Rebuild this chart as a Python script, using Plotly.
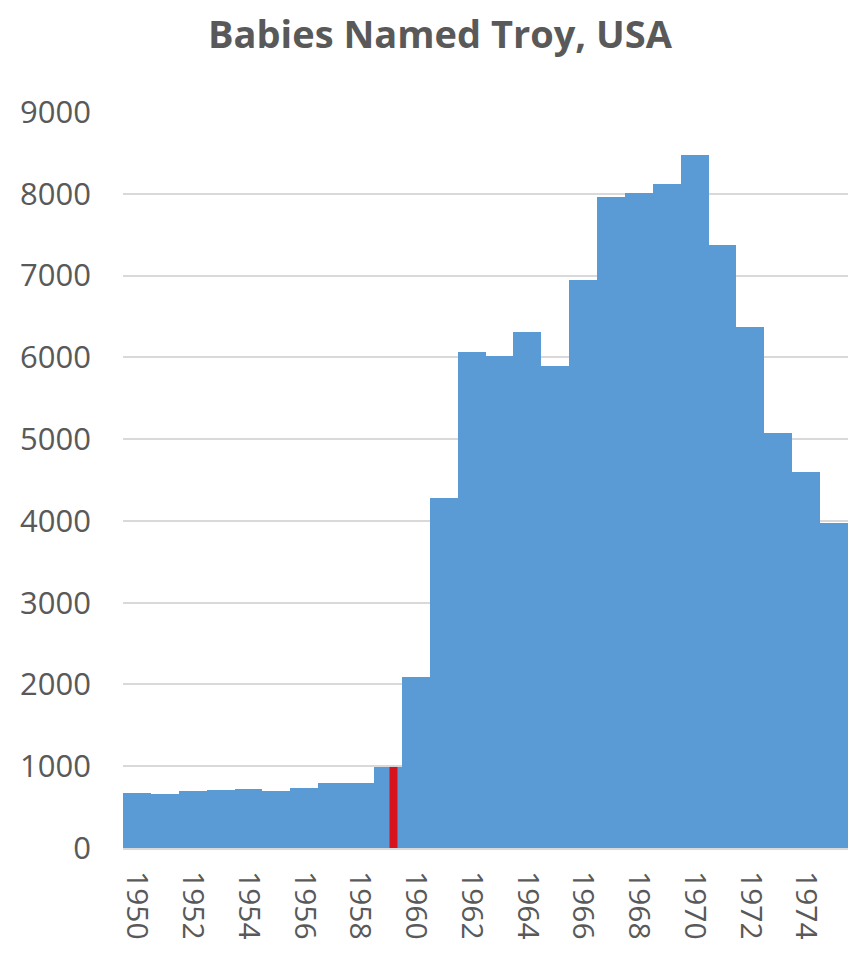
import plotly.graph_objects as go

years = list(range(1950, 1976))
babies = [670, 657, 694, 710, 722, 698, 738, 796, 796, 991,
          2090, 4275, 6062, 6013, 6315, 5900, 6940, 7960, 8013, 8123,
          8470, 7368, 6377, 5076, 4602, 3974]
tick_years = list(range(1950, 1976, 2))
y_ticks = list(range(0, 9001, 1000))
marker_x = [1959.2, 1959.2]
marker_y = [0, 991]

font_color = "#595959"
fig = go.Figure()
fig.add_trace(go.Bar(x=years, y=babies, marker=dict(color="#5b9bd5", line=dict(width=0)),
                     showlegend=False))
fig.add_trace(go.Scatter(x=marker_x, y=marker_y, mode="lines",
                         line=dict(color="#d7141c", width=8), showlegend=False))

fig.update_layout(
    width=864, height=954,
    paper_bgcolor="white", plot_bgcolor="white",
    bargap=0,
    margin=dict(l=113, r=24, t=104, b=114),
    title=dict(text="<b>Babies Named Troy, USA</b>", x=0.5, xanchor="center",
               y=0.972, yanchor="middle",
               font=dict(family="Open Sans", size=38, color=font_color)),
    font=dict(family="Open Sans", color=font_color),
    xaxis=dict(range=[1949.5, 1975.5], tickvals=tick_years, ticktext=[str(t) for t in tick_years],
               tickangle=90, tickfont=dict(size=30, color=font_color),
               showgrid=False, showline=True, linecolor="#d9d9d9", linewidth=2,
               ticks="", ticklabelstandoff=15, zeroline=False),
    yaxis=dict(range=[0, 9000], tickvals=y_ticks, tickfont=dict(size=31, color=font_color),
               showgrid=True, gridcolor="#d9d9d9", gridwidth=2, zeroline=False,
               showline=False, ticks="", ticklabelstandoff=31),
)
fig.write_html("out.html")
